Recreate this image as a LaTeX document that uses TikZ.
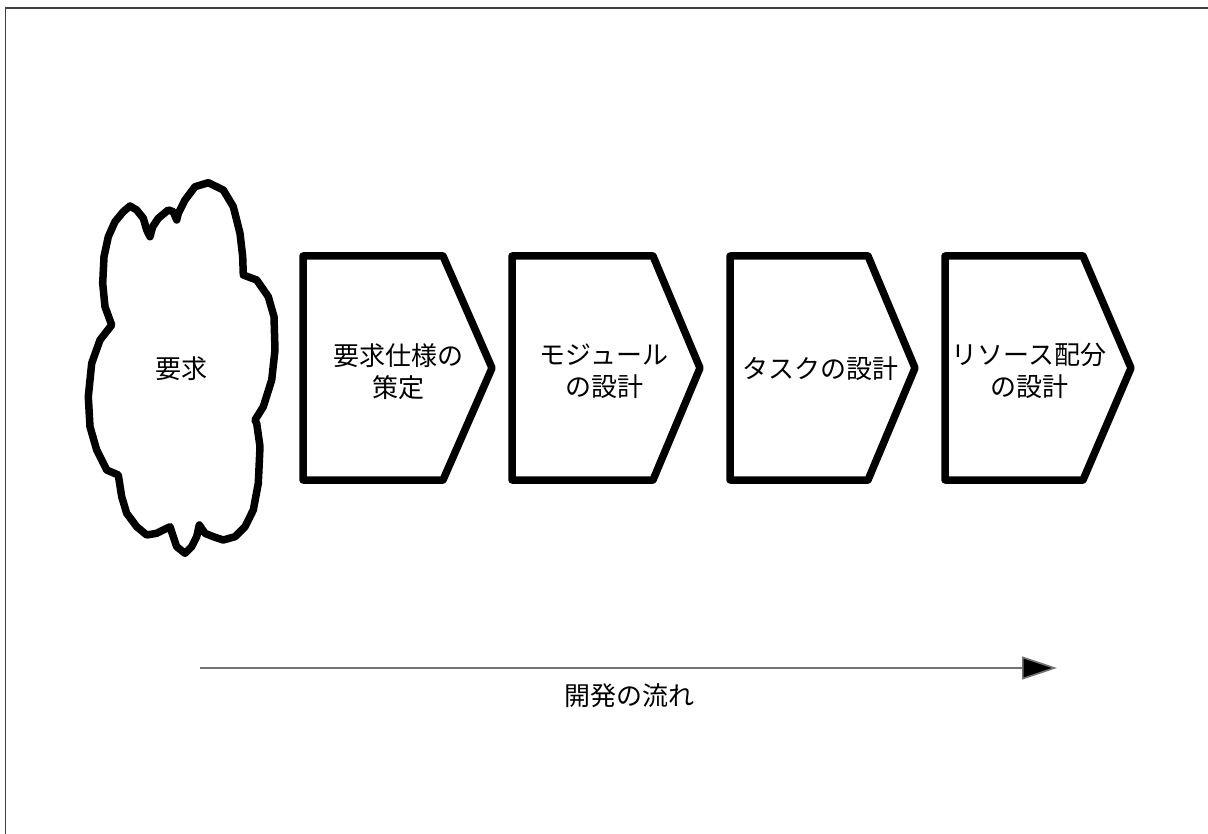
\documentclass[tikz,border=0pt]{standalone}
\usepackage{fontspec}
\newfontfamily\cjk{Noto Sans CJK JP}
\usetikzlibrary{arrows.meta}
\tikzset{
  stage/.style={draw=black, line width=7.5pt, line join=round, fill=white},
  cloudline/.style={draw=black, line width=7.5pt, line join=round, fill=white},
  lbl/.style={font=\cjk\fontsize{26}{32}\selectfont, align=center, inner sep=0pt},
  flow/.style={draw=black!55, line width=1.6pt, -{Triangle[length=35pt,width=23pt,fill=black]}},
  frame/.style={draw=black!75, line width=1.5pt}
}
\begin{document}
\begin{tikzpicture}[x=1pt,y=-1pt]
\useasboundingbox (0,0) rectangle (1208,834);
\fill[white] (0,0) rectangle (1208,834);
% frame
\coordinate (fa) at (5.5,834);
\coordinate (fb) at (5.5,8);
\coordinate (fc) at (1208,8);
\draw[frame] (fa) -- (fb) -- (fc);
% cloud
\draw[cloudline] (130,206) -- (123.3,211.7) -- (115,221.7) -- (108.3,236.7) -- (104,256.7) -- (102.7,283.3) -- (105,306.7) -- (111.7,325)
 -- (100,340) -- (91.7,363.3) -- (88.3,396.7) -- (90,426.7) -- (96.7,450) -- (106.7,470) -- (118.3,475)
 -- (121.7,496.7) -- (126.7,513.3) -- (136.7,526.7) -- (146.7,535) -- (156.7,533.3) -- (170,526.7)
 -- (173.3,536.7) -- (176.7,546.7) -- (185,553.3) -- (191.7,546.7) -- (196.7,536.7) -- (199.3,525)
 -- (205,533.3) -- (213.3,536.7) -- (223.3,540) -- (235,536.7) -- (245,526.7) -- (253.3,510) -- (258.3,483.3)
 -- (260,446.7) -- (256.7,423.3) -- (255,420) -- (263.3,406.7) -- (271.7,380) -- (275,350) -- (274,316.7)
 -- (268.3,296.7) -- (256.7,280) -- (243.3,275) -- (242.7,256.7) -- (240,233.3) -- (233.3,206.7) -- (223.3,190)
 -- (208.3,182.7) -- (195,186.7) -- (185,200) -- (178.3,213.3) -- (176.7,220) -- (173.3,211.7) -- (168.3,210)
 -- (158.3,218.3) -- (152.7,226.7) -- (150,236.7) -- (146.7,230) -- (143.3,218.3) -- (136.7,210) -- cycle;
\node[lbl] (req) at (181,369) {要求};
% stages
\draw[stage] (303,256) -- (443,256) -- (492,368) -- (443,480) -- (303,480) -- cycle;
\draw[stage] (512,256) -- (653,256) -- (700,368) -- (653,480) -- (512,480) -- cycle;
\draw[stage] (730,256) -- (868,256) -- (915,368) -- (868,480) -- (730,480) -- cycle;
\draw[stage] (945,256) -- (1083,256) -- (1131,368) -- (1083,480) -- (945,480) -- cycle;
\node[lbl] (s1) at (398,372) {要求仕様の\\策定};
\node[lbl] (s2) at (604,371) {モジュール\\の設計};
\node[lbl] (s3) at (820,369) {タスクの設計};
\node[lbl] (s4) at (1029,371) {リソース配分\\の設計};
% flow arrow
\coordinate (fs) at (200,668);
\coordinate (fe) at (1057,668);
\draw[flow] (fs) -- (fe);
\node[lbl] (flowlbl) at (629,696) {開発の流れ};
\end{tikzpicture}
\end{document}
